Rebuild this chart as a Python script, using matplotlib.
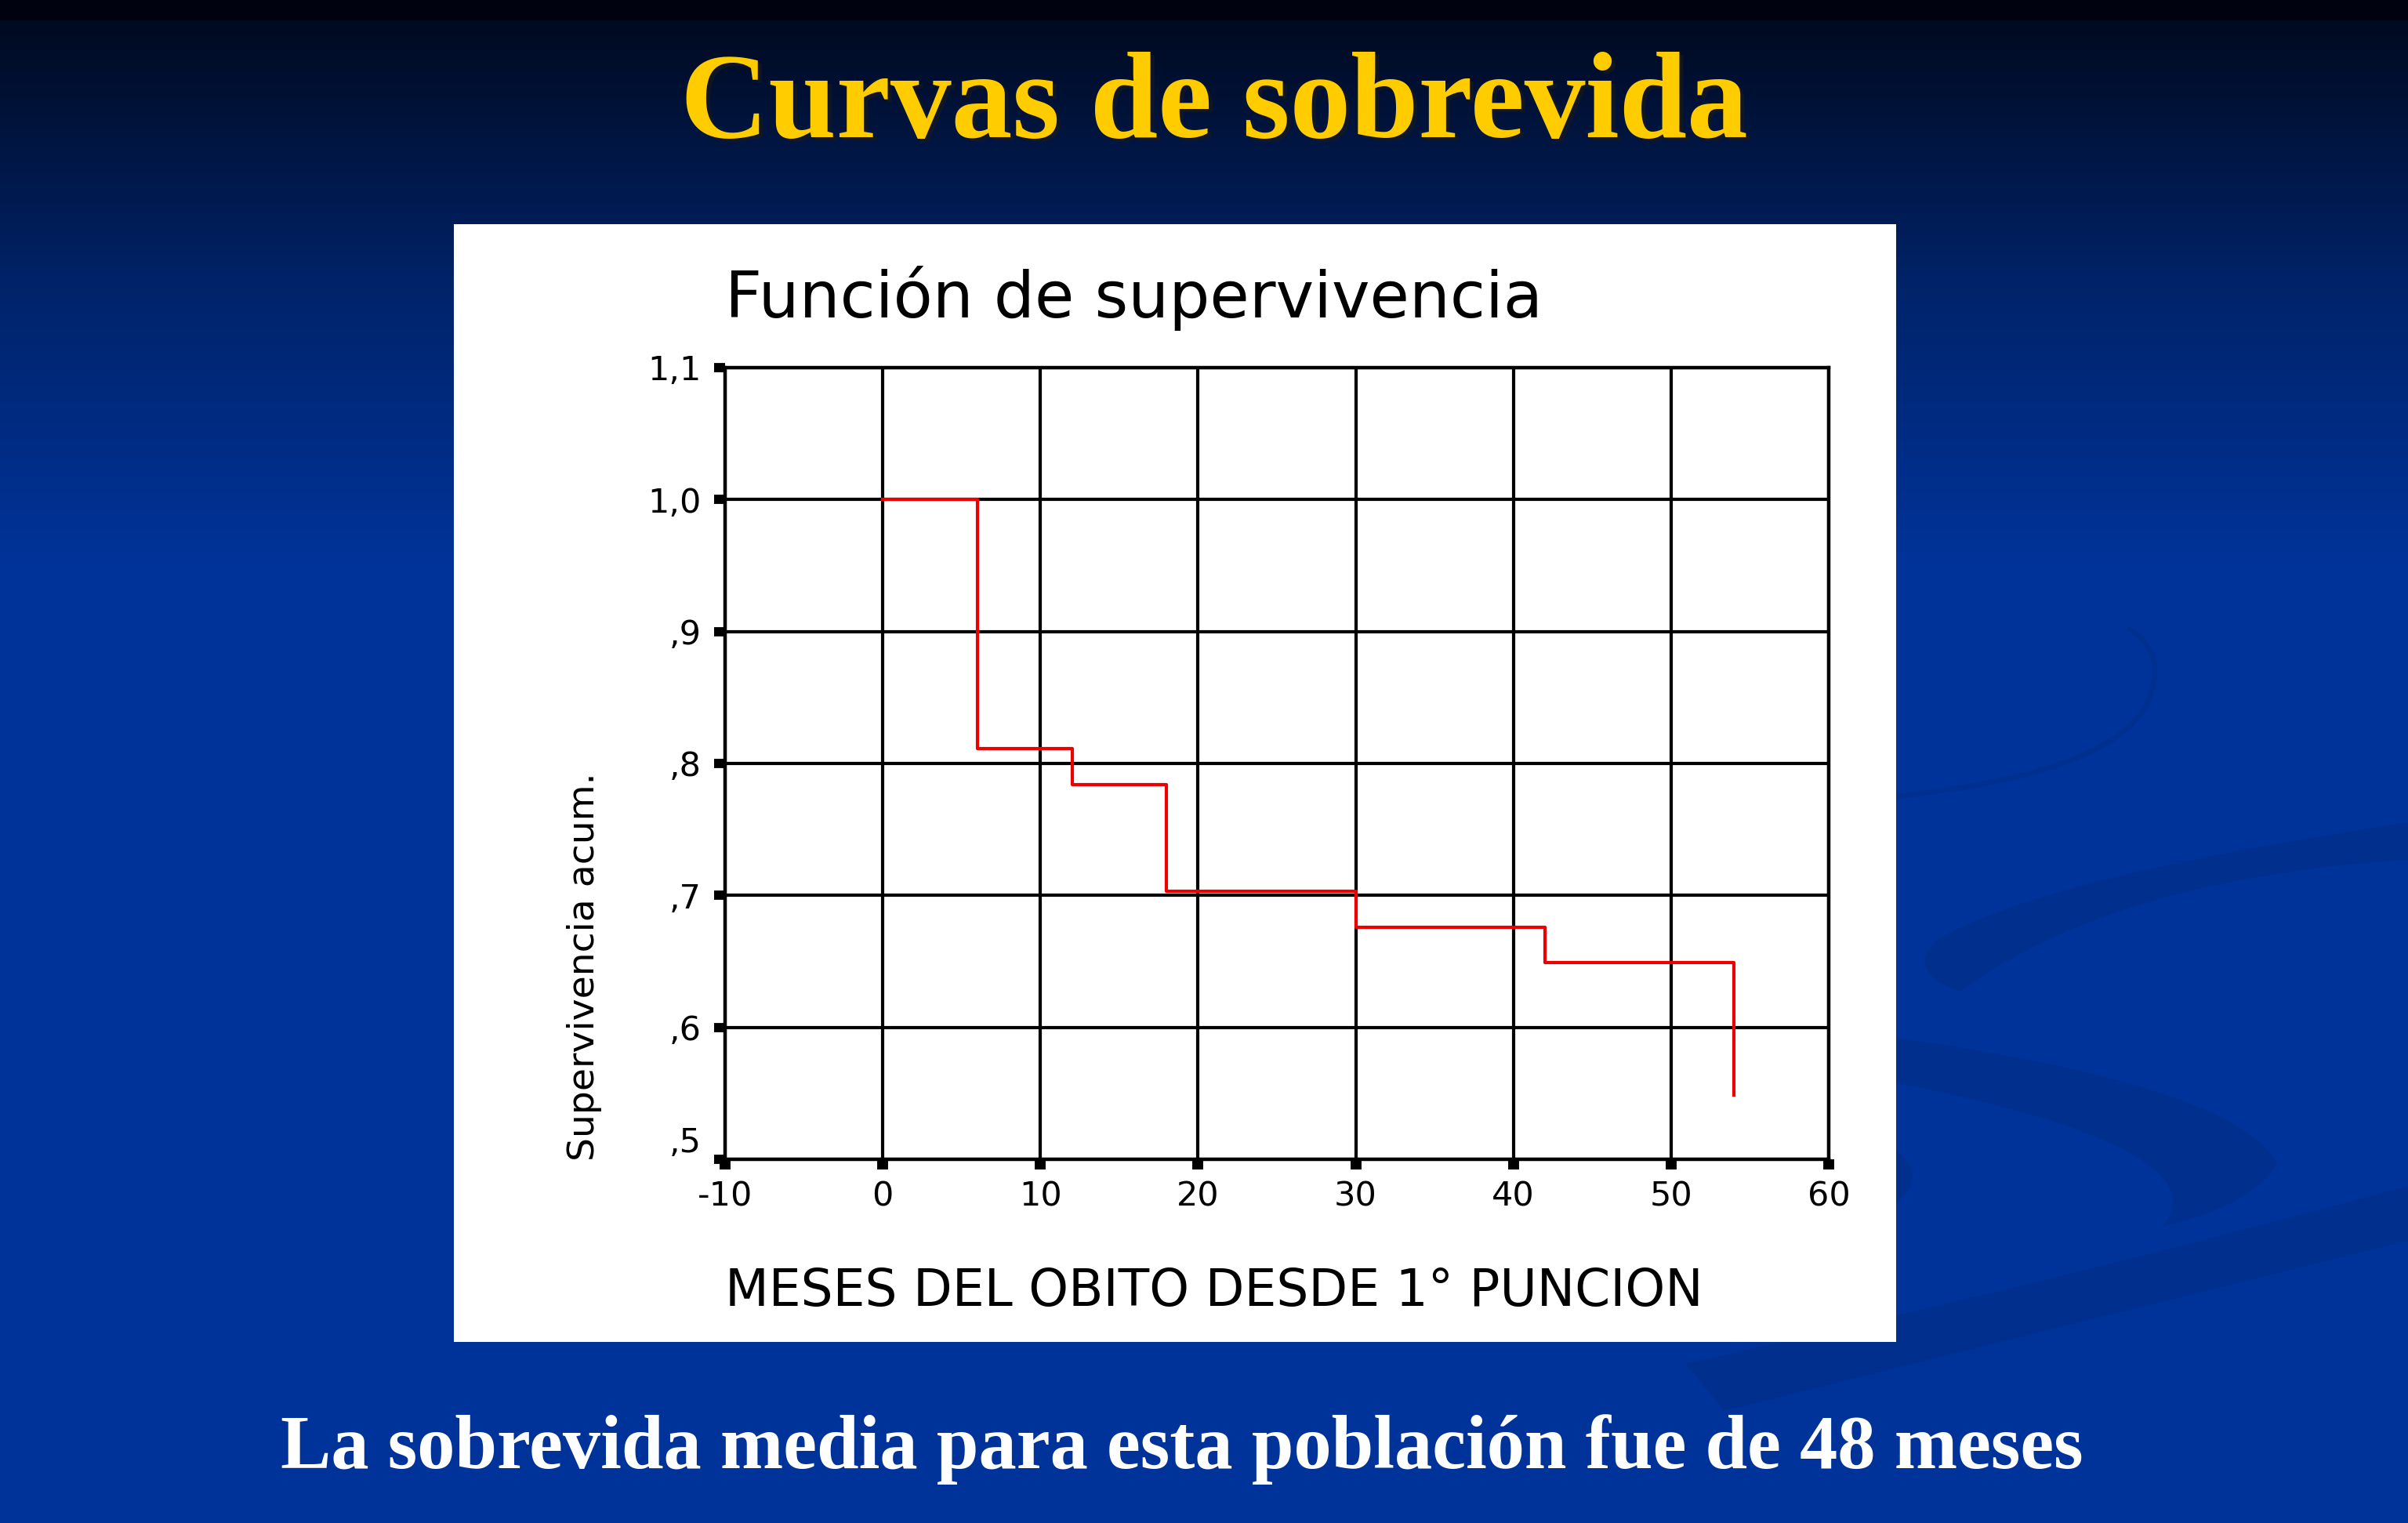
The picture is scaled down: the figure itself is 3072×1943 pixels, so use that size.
import numpy as np
import matplotlib
matplotlib.use("Agg")
import matplotlib.pyplot as plt
from matplotlib.colors import to_rgb
from matplotlib.patches import Rectangle, Polygon

# ---------------- data ----------------
times = [0, 6, 12, 18, 30, 42, 54]
survival = [1.0, 0.811, 0.784, 0.703, 0.676, 0.649, 0.549]
x_ticks = [-10, 0, 10, 20, 30, 40, 50, 60]
y_ticks = [0.5, 0.6, 0.7, 0.8, 0.9, 1.0, 1.1]
y_tick_labels = [",5", ",6", ",7", ",8", ",9", "1,0", "1,1"]
slide_title = "Curvas de sobrevida"
chart_title = "Función de supervivencia"
x_label = "MESES DEL OBITO DESDE 1° PUNCION"
y_label = "Supervivencia acum."
footer = "La sobrevida media para esta población fue de 48 meses"

W, H = 3072, 1943
fig = plt.figure(figsize=(W / 100, H / 100), dpi=100)

def fx(px):
    return px / W

def fy(py):
    return 1 - py / H

# ---------------- background ----------------
bg = fig.add_axes([0, 0, 1, 1], zorder=-10)
bg.set_xlim(0, W)
bg.set_ylim(H, 0)
bg.axis("off")
top = np.array(to_rgb("#000a20"))
mid = np.array(to_rgb("#00246c"))
bot = np.array(to_rgb("#003399"))
grad = np.zeros((H, 1, 3))
for i in range(H):
    if i < 26:
        c = np.array(to_rgb("#00030f"))
    elif i < 380:
        t = (i - 26) / (380 - 26)
        c = top + (mid - top) * t
    elif i < 720:
        t = (i - 380) / (720 - 380)
        c = mid + (bot - mid) * t
    else:
        c = bot
    grad[i, 0] = c
bg.imshow(grad, extent=[0, W, H, 0], aspect="auto", zorder=0)

def bez(p0, p1, p2, n=40):
    t = np.linspace(0, 1, n)[:, None]
    p0, p1, p2 = map(np.array, (p0, p1, p2))
    return (1 - t) ** 2 * p0 + 2 * (1 - t) * t * p1 + t ** 2 * p2

band_col = "#002f8e"
# upper swoosh band
up_top = bez((3072, 1049), (2600, 1120), (2470, 1200))
up_bot = bez((2500, 1265), (2700, 1120), (3072, 1097))
bg.add_patch(Polygon(np.vstack([up_top, bez((2470, 1200), (2430, 1240), (2500, 1265), 10), up_bot]),
                     closed=True, fc=band_col, ec="none", zorder=1))
# middle hook band
mid_top = bez((2380, 1319), (2850, 1380), (2905, 1485))
mid_bot = bez((2905, 1485), (2870, 1540), (2760, 1564))
mid_ret = bez((2760, 1564), (2840, 1460), (2380, 1374))
bg.add_patch(Polygon(np.vstack([mid_top, mid_bot, mid_ret]), closed=True,
                     fc=band_col, ec="none", zorder=1))
# bulge
bg.add_patch(Polygon(bez((2380, 1445), (2500, 1500), (2380, 1557)), closed=True,
                     fc=band_col, ec="none", zorder=1))
# lower band
low_top = bez((2150, 1740), (2600, 1640), (3072, 1513))
low_bot = bez((3072, 1583), (2600, 1700), (2200, 1800))
bg.add_patch(Polygon(np.vstack([low_top, low_bot]), closed=True,
                     fc=band_col, ec="none", zorder=1))
# thin faint arc
arc = np.vstack([bez((2380, 1020), (2720, 990), (2745, 880)),
                 bez((2745, 880), (2760, 830), (2717, 803))])
bg.plot(arc[:, 0], arc[:, 1], color="#00308f", lw=5, zorder=1, solid_capstyle="round")

# white panel
bg.add_patch(Rectangle((579, 286), 1840, 1426, fc="white", ec="none", zorder=2))

# ---------------- texts ----------------
fig.text(fx(1549) + 0.0015, fy(175) - 0.002, slide_title, ha="center", va="baseline",
         fontsize=112, fontweight="bold", family="Liberation Serif", color="#1a1a1a", alpha=0.6)
fig.text(fx(1549), fy(175), slide_title, ha="center", va="baseline",
         fontsize=112, fontweight="bold", family="Liberation Serif", color="#FFCC00")
fig.text(fx(1508), fy(1873), footer, ha="center", va="baseline",
         fontsize=69.5, fontweight="bold", family="Liberation Serif", color="white")

# ---------------- chart ----------------
ax = fig.add_axes([fx(925), fy(1479), fx(2333) - fx(925), fy(469) - fy(1479)], zorder=5)
ax.set_xlim(-10, 60)
ax.set_ylim(0.5, 1.1)
ax.set_facecolor("white")
ax.grid(True, color="black", lw=3.0)
ax.set_axisbelow(True)
for s in ax.spines.values():
    s.set_color("black")
    s.set_linewidth(3.2)

ax.step(times, survival, where="post", color="#ee0000", lw=3.0, zorder=3)

ax.set_xticks(x_ticks)
ax.set_xticklabels([str(v) for v in x_ticks])
ax.set_yticks(y_ticks)
ax.set_yticklabels(y_tick_labels)
ax.tick_params(axis="y", direction="out", length=10, width=8.5, color="black",
               labelsize=31, pad=12)
ax.tick_params(axis="x", direction="out", length=9, width=10, color="black",
               labelsize=31, pad=10)
for lab in ax.get_yticklabels() + ax.get_xticklabels():
    lab.set_family("DejaVu Sans")
ax.get_yticklabels()[0].set_va("bottom")

fig.text(fx(925), fy(405), chart_title, ha="left", va="baseline",
         fontsize=59, family="DejaVu Sans", color="black")
fig.text(fx(925), fy(1666), x_label, ha="left", va="baseline",
         fontsize=46.5, family="DejaVu Sans", color="black")
fig.text(fx(746), fy(1481), y_label, ha="center", va="bottom", rotation=90,
         fontsize=34, family="DejaVu Sans", color="black")

fig.savefig("out.png", dpi=100)
